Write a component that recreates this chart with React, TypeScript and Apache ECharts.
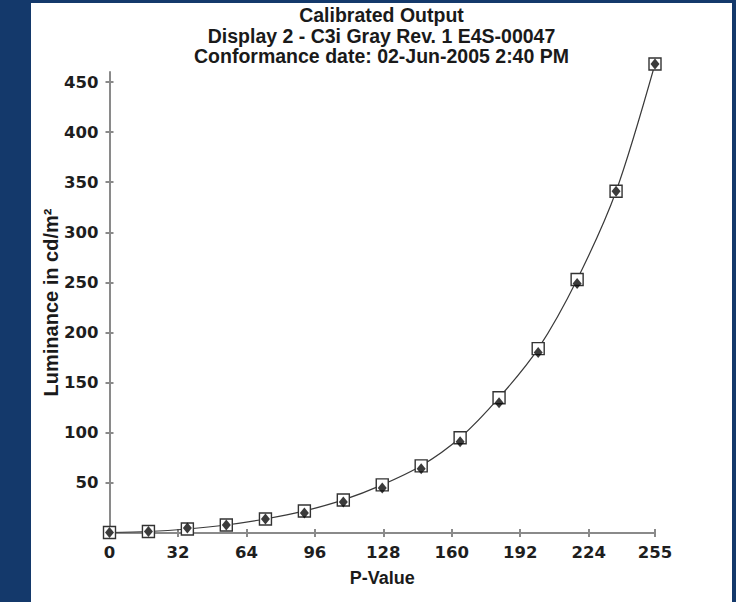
import React, { useEffect, useRef } from "react";
import * as echarts from "echarts";

const pValues = [0, 18.2, 36.4, 54.6, 72.9, 91.1, 109.3, 127.5, 145.7, 163.9, 182.1, 200.4, 218.6, 236.8, 255];
const targetLum = [0.5, 1.5, 4, 8, 14, 22, 33, 48, 67, 95, 135, 184, 253, 341, 468];
const measuredLum = [0.5, 1.5, 5, 8, 14, 20, 31, 45, 64, 91, 130, 180, 249, 341, 468];
const xTicks = [0, 32, 64, 96, 128, 160, 192, 224, 255];
const yTicks = [50, 100, 150, 200, 250, 300, 350, 400, 450];
const titleLines = [
  "Calibrated Output",
  "Display 2 - C3i Gray Rev. 1 E4S-00047",
  "Conformance date: 02-Jun-2005 2:40 PM",
];

export default function App() {
  const ref = useRef<HTMLDivElement>(null);
  useEffect(() => {
    if (!ref.current) return;
    const chart = echarts.init(ref.current, null, { renderer: "svg" });
    const axisColor = "#8a8a8a";
    const tickFont = { fontFamily: "DejaVu Sans", fontWeight: "bold" as const, fontSize: 16.5, color: "#1e1e1e" };
    chart.setOption({
      animation: false,
      backgroundColor: "#ffffff",
      title: {
        text: titleLines.join("\n"),
        left: "center",
        top: 2,
        padding: 0,
        textStyle: { fontFamily: "Arial, Liberation Sans", fontWeight: "bold", fontSize: 19.5, lineHeight: 20.5, color: "#1a1a1a" },
      },
      grid: { left: 78.5, right: 77, top: 69, bottom: 69, containLabel: false, outerBoundsMode: "none" },
      xAxis: [
        {
          type: "value",
          min: 0,
          max: 255,
          name: "P-Value",
          nameLocation: "middle",
          nameGap: 36,
          nameMoveOverlap: false,
          nameTextStyle: { fontFamily: "Arial, Liberation Sans", fontWeight: "bold", fontSize: 18, color: "#1a1a1a" },
          axisLine: { show: true, onZero: false, lineStyle: { color: axisColor, width: 2 } },
          axisTick: { show: true, length: 4, lineStyle: { color: axisColor, width: 2 }, customValues: xTicks },
          axisLabel: { ...tickFont, margin: 11, customValues: xTicks },
          splitLine: { show: false },
        },
        {
          type: "value",
          min: 0,
          max: 255,
          position: "bottom",
          axisLine: { show: false },
          axisTick: { show: true, inside: true, length: 4, lineStyle: { color: axisColor, width: 2 }, customValues: xTicks },
          axisLabel: { show: false },
          splitLine: { show: false },
        },
      ],
      yAxis: [
        {
          type: "value",
          min: 0,
          max: 460,
          name: "Luminance in cd/m²",
          nameLocation: "middle",
          nameGap: 49,
          nameMoveOverlap: false,
          nameTextStyle: { fontFamily: "Arial, Liberation Sans", fontWeight: "bold", fontSize: 20, color: "#1a1a1a" },
          axisLine: { show: true, onZero: false, lineStyle: { color: axisColor, width: 2 } },
          axisTick: { show: true, length: 4, lineStyle: { color: axisColor, width: 2 }, customValues: yTicks },
          axisLabel: { ...tickFont, margin: 11, customValues: yTicks },
          splitLine: { show: false },
        },
        {
          type: "value",
          min: 0,
          max: 460,
          position: "left",
          axisLine: { show: false },
          axisTick: { show: true, inside: true, length: 4, lineStyle: { color: axisColor, width: 2 }, customValues: yTicks },
          axisLabel: { show: false },
          splitLine: { show: false },
        },
      ],
      series: [
        {
          name: "Target",
          type: "line",
          data: pValues.map((x, i) => [x, targetLum[i]]),
          smooth: 0.3,
          clip: false,
          symbol: "rect",
          symbolSize: 12,
          itemStyle: { color: "#ffffff", borderColor: "#333333", borderWidth: 1.4 },
          lineStyle: { color: "#3a3a3a", width: 1.2 },
          z: 3,
        },
        {
          name: "Measured",
          type: "scatter",
          data: pValues.map((x, i) => [x, measuredLum[i]]),
          clip: false,
          symbol: "diamond",
          symbolSize: [9, 11],
          itemStyle: { color: "#0a0a0a" },
          z: 4,
        },
      ],
    });
    return () => chart.dispose();
  }, []);
  return (
    <div style={{ position: "fixed", left: 0, top: 0, width: 736, height: 602, background: "#14396b" }}>
      <div ref={ref} style={{ position: "absolute", left: 31, top: 3, width: 701, height: 599, background: "#ffffff" }} />
    </div>
  );
}
